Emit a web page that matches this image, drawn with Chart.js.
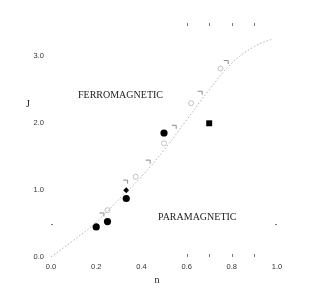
<!DOCTYPE html>
<html>
<head>
<meta charset="utf-8">
<script src="https://cdn.jsdelivr.net/npm/chart.js@4/dist/chart.umd.min.js"></script>
<style>
  html, body { margin: 0; padding: 0; background: #fff; }
  canvas { display: block; }
</style>
</head>
<body>
<canvas id="myChart" width="312" height="301"></canvas>
<script>
// boundary curve J(n)
const curveN = [0.0, 0.1, 0.2, 0.3, 0.4, 0.5, 0.6, 0.7, 0.8, 0.9, 0.98];
const curveJ = [0.0, 0.25, 0.52, 0.86, 1.2, 1.6, 2.05, 2.5, 2.9, 3.15, 3.26];

// filled circles
const dotN = [0.2, 0.25, 0.333, 0.5];
const dotJ = [0.45, 0.53, 0.875, 1.855];

// filled diamond and filled square
const diamondN = [0.333];
const diamondJ = [1.0];
const squareN = [0.7];
const squareJ = [2.0];

// open squares and open circles along the curve
const openSqN = [0.225, 0.33, 0.43, 0.545, 0.66, 0.775];
const openSqJ = [0.63, 1.12, 1.42, 1.94, 2.45, 2.91];
const openCircN = [0.25, 0.375, 0.5, 0.62, 0.75];
const openCircJ = [0.7, 1.2, 1.7, 2.3, 2.82];

// axis ticks
const xTicks = [0.0, 0.2, 0.4, 0.6, 0.8, 1.0];
const yTicks = [0.0, 1.0, 2.0, 3.0];
const xMinorTicks = [0.6, 0.7, 0.8, 0.9];
const yMinorTicks = [0.5];

function pts(xs, ys) {
    return xs.map((x, i) => ({ x: x, y: ys[i] }));
}

// little "open square" marker, only top and right edges show in the original
function bracketMarker() {
    const c = document.createElement('canvas');
    c.width = 7;
    c.height = 7;
    const g = c.getContext('2d');
    g.strokeStyle = '#8a8a8a';
    g.lineWidth = 1;
    g.beginPath();
    g.moveTo(1, 1.5);
    g.lineTo(5.5, 1.5);
    g.lineTo(5.5, 5);
    g.stroke();
    return c;
}

const textPlugin = {
    id: 'phaseText',
    afterDraw(chart) {
        const ctx = chart.ctx;
        const xs = chart.scales.x;
        const ys = chart.scales.y;
        const area = chart.chartArea;
        ctx.save();

        // stray tick marks of the original frame
        ctx.strokeStyle = '#777';
        ctx.lineWidth = 1;
        xMinorTicks.forEach(v => {
            const px = Math.round(xs.getPixelForValue(v)) + 0.5;
            ctx.beginPath();
            ctx.moveTo(px, area.top);
            ctx.lineTo(px, area.top + 3);
            ctx.moveTo(px, area.bottom);
            ctx.lineTo(px, area.bottom - 3);
            ctx.stroke();
        });
        yMinorTicks.forEach(v => {
            const py = Math.round(ys.getPixelForValue(v)) + 0.5;
            ctx.beginPath();
            ctx.moveTo(area.left, py);
            ctx.lineTo(area.left + 2, py);
            ctx.moveTo(area.right, py);
            ctx.lineTo(area.right - 2, py);
            ctx.stroke();
        });

        ctx.fillStyle = '#222';
        ctx.font = '10px "Liberation Serif", serif';
        ctx.textBaseline = 'middle';
        ctx.textAlign = 'left';
        ctx.fillText('FERROMAGNETIC', 78, 95);
        ctx.fillText('PARAMAGNETIC', 158, 217);
        ctx.textAlign = 'center';
        ctx.fillText('J', 28, 104);
        ctx.fillText('n', 157, 280);
        ctx.restore();
    }
};

const ctx = document.getElementById('myChart').getContext('2d');
const chartInstance = new Chart(ctx, {
    type: 'scatter',
    data: {
        datasets: [{
            label: 'boundary',
            data: pts(curveN, curveJ),
            showLine: true,
            borderColor: '#b0b0b0',
            borderWidth: 1,
            borderDash: [1.5, 2],
            tension: 0.4,
            pointRadius: 0
        }, {
            label: 'open squares',
            data: pts(openSqN, openSqJ),
            pointStyle: bracketMarker(),
            pointRadius: 3
        }, {
            label: 'open circles',
            data: pts(openCircN, openCircJ),
            pointStyle: 'circle',
            pointRadius: 2.5,
            borderWidth: 0.8,
            borderColor: '#b4b4b4',
            backgroundColor: 'transparent'
        }, {
            label: 'circles',
            data: pts(dotN, dotJ),
            pointStyle: 'circle',
            pointRadius: 3.6,
            borderWidth: 0,
            backgroundColor: '#000'
        }, {
            label: 'diamond',
            data: pts(diamondN, diamondJ),
            pointStyle: 'rectRot',
            pointRadius: 3,
            borderWidth: 0,
            backgroundColor: '#000'
        }, {
            label: 'square',
            data: pts(squareN, squareJ),
            pointStyle: 'rect',
            pointRadius: 4.2,
            borderWidth: 0,
            backgroundColor: '#000'
        }]
    },
    options: {
        responsive: false,
        animation: false,
        layout: {
            padding: { top: 23, right: 35, left: 0, bottom: 0 }
        },
        plugins: {
            legend: { display: false },
            tooltip: { enabled: false }
        },
        scales: {
            x: {
                type: 'linear',
                min: 0,
                max: 1,
                border: { display: false },
                grid: { display: false, drawTicks: false },
                afterBuildTicks: scale => {
                    scale.ticks = xTicks.map(v => ({ value: v }));
                },
                afterFit: scale => {
                    scale.height = 44;
                },
                ticks: {
                    padding: 5,
                    color: '#333',
                    font: { family: '"Liberation Sans", sans-serif', size: 7.5 },
                    callback: v => v.toFixed(1)
                }
            },
            y: {
                type: 'linear',
                min: 0,
                max: 3.5,
                border: { display: false },
                grid: { display: false, drawTicks: false },
                afterBuildTicks: scale => {
                    scale.ticks = yTicks.map(v => ({ value: v }));
                },
                afterFit: scale => {
                    scale.width = 51;
                },
                ticks: {
                    padding: 7,
                    color: '#333',
                    font: { family: '"Liberation Sans", sans-serif', size: 7.5 },
                    callback: v => v.toFixed(1)
                }
            }
        }
    },
    plugins: [textPlugin]
});
</script>
</body>
</html>
